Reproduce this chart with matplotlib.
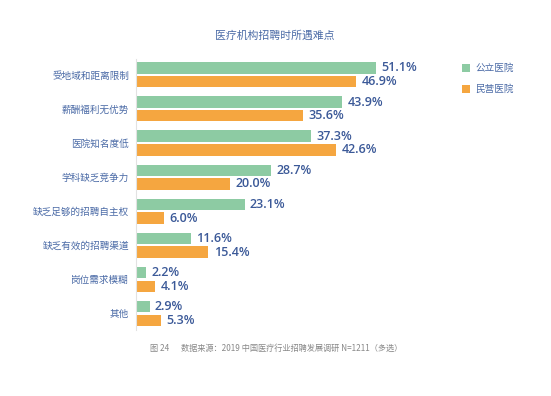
import matplotlib
matplotlib.use("Agg")
import matplotlib.pyplot as plt
import numpy as np

categories = ["受地域和距离限制", "薪酬福利无优势", "医院知名度低", "学科缺乏竞争力",
              "缺乏足够的招聘自主权", "缺乏有效的招聘渠道", "岗位需求模糊", "其他"]
public_vals = [51.1, 43.9, 37.3, 28.7, 23.1, 11.6, 2.2, 2.9]
private_vals = [46.9, 35.6, 42.6, 20.0, 6.0, 15.4, 4.1, 5.3]
series_names = ["公立医院", "民营医院"]
title = "医疗机构招聘时所遇难点"
footer_fig = "图 24"
footer_src = "数据来源：2019 中国医疗行业招聘发展调研 N=1211（多选）"

plt.rcParams['font.family'] = ['Noto Sans CJK SC', 'DejaVu Sans']

GREEN = "#8dcba3"
ORANGE = "#f5a640"
LABEL = "#4a6aa6"
VALUE = "#3b5998"

W, H = 551, 396
fig = plt.figure(figsize=(W/100, H/100), dpi=100)
ax = fig.add_axes([136/W, 1-330/H, 282/W, (330-59)/H])

y = np.arange(len(categories))
off = 0.2
h = 0.335
ax.barh(y - off, public_vals, height=h, color=GREEN, label=series_names[0])
ax.barh(y + off, private_vals, height=h, color=ORANGE, label=series_names[1])

vfont = dict(fontsize=9, fontweight="semibold", color=VALUE, family=["Open Sans", "DejaVu Sans"])
for yi, v in zip(y, public_vals):
    ax.text(v + 1.1, yi - off, f"{v:.1f}%", va="center", ha="left", **vfont)
for yi, v in zip(y, private_vals):
    ax.text(v + 1.1, yi + off, f"{v:.1f}%", va="center", ha="left", **vfont)

ax.set_xlim(0, 60)
ax.set_ylim(7.484, -0.463)
ax.set_yticks(y)
ax.set_yticklabels(categories, fontsize=6.9, color=LABEL)
ax.tick_params(axis="y", length=0, pad=5)
ax.set_xticks([])
for s in ["top", "right", "bottom"]:
    ax.spines[s].set_visible(False)
ax.spines["left"].set_color("#e2e2e2")
ax.spines["left"].set_linewidth(0.8)

fig.text(274.5/W, 1-35.7/H, title, ha="center", va="center", fontsize=7.8, color=LABEL)

leg = fig.legend(loc="upper left", bbox_to_anchor=(458/W, 1-60/H), frameon=False,
                 fontsize=6.9, handlelength=0.9, handleheight=0.9, labelspacing=1.15,
                 handletextpad=0.5, borderaxespad=0)
for t in leg.get_texts():
    t.set_color(LABEL)

fig.text(150/W, 1-348/H, footer_fig, ha="left", va="center", fontsize=5.9, color="#888888")
fig.text(181/W, 1-348/H, footer_src, ha="left", va="center", fontsize=5.9, color="#888888")

fig.savefig("out.png", dpi=100)
